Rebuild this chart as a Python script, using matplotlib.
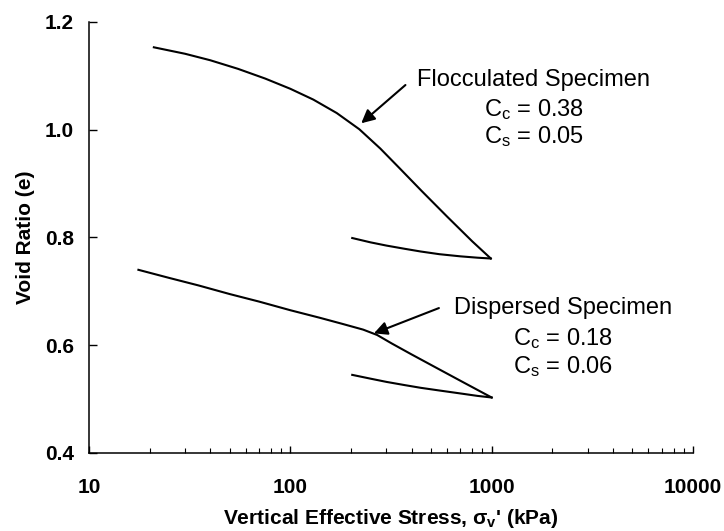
import matplotlib
matplotlib.use("Agg")
import matplotlib.pyplot as plt
from matplotlib.ticker import FixedLocator, FixedFormatter, LogLocator, NullFormatter

plt.rcParams["font.family"] = ["Liberation Sans", "DejaVu Sans"]
plt.rcParams["mathtext.fontset"] = "custom"
plt.rcParams["mathtext.rm"] = "Liberation Sans"
plt.rcParams["mathtext.it"] = "Liberation Sans:italic"
plt.rcParams["mathtext.bf"] = "Liberation Sans:bold"

# flocculated specimen: loading and unloading branches (stress in kPa, void ratio)
floc_load_s = [21, 30, 40, 55, 75, 100, 130, 170, 220, 280, 350, 450, 600, 800, 990]
floc_load_e = [1.153, 1.141, 1.129, 1.113, 1.095, 1.076, 1.056, 1.031, 1.001,
               0.965, 0.928, 0.886, 0.839, 0.793, 0.761]
floc_unload_s = [203, 250, 300, 370, 444, 550, 700, 850, 990]
floc_unload_e = [0.799, 0.791, 0.785, 0.779, 0.774, 0.769, 0.765, 0.7625, 0.761]

# dispersed specimen
disp_load_s = [17.6, 25, 35, 50, 70, 100, 140, 180, 230, 270, 320, 400, 520, 700, 1000]
disp_load_e = [0.740, 0.725, 0.711, 0.695, 0.681, 0.665, 0.651, 0.640, 0.629,
               0.619, 0.603, 0.583, 0.560, 0.534, 0.503]
disp_unload_s = [203, 250, 300, 370, 444, 550, 700, 850, 1000]
disp_unload_e = [0.545, 0.538, 0.532, 0.526, 0.521, 0.516, 0.5105, 0.506, 0.503]

floc_cc, floc_cs = 0.38, 0.05
disp_cc, disp_cs = 0.18, 0.06

yticks = [0.4, 0.6, 0.8, 1.0, 1.2]
xticks = [10, 100, 1000, 10000]

fig = plt.figure(figsize=(7.24, 5.31), dpi=100)
ax = fig.add_axes([0.1229, 0.1469, 0.8343, 0.8117])

for s, e in [(floc_load_s, floc_load_e), (floc_unload_s, floc_unload_e),
             (disp_load_s, disp_load_e), (disp_unload_s, disp_unload_e)]:
    ax.plot(s, e, color="k", lw=1.5, solid_joinstyle="round")

ax.set_xscale("log")
ax.set_xlim(10, 10000)
ax.set_ylim(0.4, 1.2)

ax.spines["top"].set_visible(False)
ax.spines["right"].set_visible(False)
for sp in ("left", "bottom"):
    ax.spines[sp].set_linewidth(1.1)

ax.yaxis.set_major_locator(FixedLocator(yticks))
ax.yaxis.set_major_formatter(FixedFormatter([f"{v:.1f}" for v in yticks]))
ax.xaxis.set_major_locator(FixedLocator(xticks))
ax.xaxis.set_major_formatter(FixedFormatter([str(v) for v in xticks]))
ax.xaxis.set_minor_locator(LogLocator(base=10, subs=range(2, 10)))
ax.xaxis.set_minor_formatter(NullFormatter())

ax.tick_params(axis="y", direction="in", length=6, width=1.0, pad=11,
               labelsize=15)
ax.tick_params(axis="x", which="major", direction="in", length=5, width=1.0,
               pad=18, labelsize=15)
ax.tick_params(axis="x", which="minor", direction="in", length=3.5, width=0.8)
for lab in ax.get_xticklabels() + ax.get_yticklabels():
    lab.set_fontweight("bold")

ax.set_ylabel("Void Ratio (e)", fontsize=15, fontweight="bold", labelpad=7)
ax.set_xlabel("Vertical Effective Stress, σ$_\\mathbf{v}$' (kPa)",
              fontsize=15, fontweight="bold", labelpad=7)

# arrows pointing at each loading curve
ax.annotate("", xy=(225, 1.012), xytext=(373, 1.083),
            arrowprops=dict(arrowstyle="-|>", color="k", lw=1.5,
                            mutation_scale=20, shrinkA=0, shrinkB=0))
ax.annotate("", xy=(260, 0.622), xytext=(547, 0.669),
            arrowprops=dict(arrowstyle="-|>", color="k", lw=1.5,
                            mutation_scale=20, shrinkA=0, shrinkB=0))

fs = 17
ax.text(1618, 1.092, "Flocculated Specimen", fontsize=fs, ha="center", va="center")
ax.text(1618, 1.037, f"C$_\\mathrm{{c}}$ = {floc_cc:.2f}", fontsize=fs, ha="center", va="center")
ax.text(1618, 0.987, f"C$_\\mathrm{{s}}$ = {floc_cs:.2f}", fontsize=fs, ha="center", va="center")
ax.text(2254, 0.669, "Dispersed Specimen", fontsize=fs, ha="center", va="center")
ax.text(2254, 0.612, f"C$_\\mathrm{{c}}$ = {disp_cc:.2f}", fontsize=fs, ha="center", va="center")
ax.text(2254, 0.560, f"C$_\\mathrm{{s}}$ = {disp_cs:.2f}", fontsize=fs, ha="center", va="center")

fig.savefig("out.png", dpi=100)
